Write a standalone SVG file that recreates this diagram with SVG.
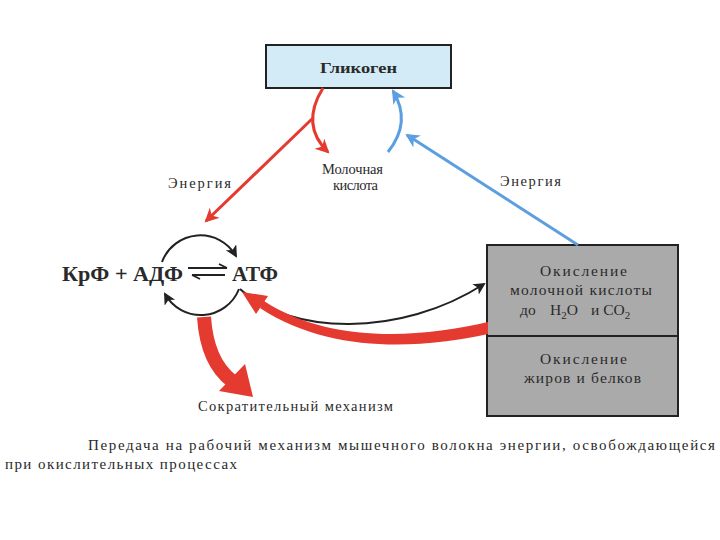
<svg xmlns="http://www.w3.org/2000/svg" width="720" height="540" viewBox="0 0 720 540">
<style>
text{font-family:"Liberation Serif","DejaVu Serif",serif;fill:#2a2a2a}
.lbl{font-size:14.5px}
.box{font-size:15.5px}
.red{stroke:#e53a30;fill:none}
.blue{stroke:#5b9fe0;fill:none}
.blk{stroke:#222;fill:none}
</style>
<defs>
<marker id="mr" markerUnits="userSpaceOnUse" markerWidth="16" markerHeight="16" refX="12" refY="7" orient="auto"><path d="M0,0 L14,7 L0,14 L4,7 Z" fill="#e53a30"/></marker>
<marker id="mb" markerUnits="userSpaceOnUse" markerWidth="16" markerHeight="16" refX="12" refY="7" orient="auto"><path d="M0,0 L14,7 L0,14 L4,7 Z" fill="#5b9fe0"/></marker>
<marker id="mk" markerUnits="userSpaceOnUse" markerWidth="14" markerHeight="14" refX="10" refY="6" orient="auto"><path d="M0,0 L12,6 L0,12 L3,6 Z" fill="#222"/></marker>
</defs>
<rect width="720" height="540" fill="#fff"/>

<g id="glycogen">
<rect x="266" y="45" width="185" height="43" fill="#d3ebf7" stroke="#222" stroke-width="2"/>
<text x="320" y="73" textLength="77" lengthAdjust="spacingAndGlyphs" style="font-size:15.5px;font-weight:bold">Гликоген</text>
</g>

<g id="oxidation">
<rect x="487" y="245" width="191" height="171" fill="#aaaaaa" stroke="#222" stroke-width="2"/>
<line x1="487" y1="336" x2="678" y2="336" stroke="#222" stroke-width="2"/>
<text class="box" x="540" y="276" textLength="87" lengthAdjust="spacing">Окисление</text>
<text class="box" x="510" y="295" textLength="142" lengthAdjust="spacing">молочной кислоты</text>
<text class="box" x="520" y="315"><tspan>до</tspan><tspan x="550">H</tspan><tspan font-size="11" dy="4">2</tspan><tspan dy="-4">O</tspan><tspan x="591">и CO</tspan><tspan font-size="11" dy="4">2</tspan></text>
<text class="box" x="540" y="364" textLength="87" lengthAdjust="spacing">Окисление</text>
<text class="box" x="524" y="383" textLength="117" lengthAdjust="spacing">жиров и белков</text>
</g>

<g id="equation">
<text x="62" y="281" textLength="121" lengthAdjust="spacingAndGlyphs" style="font-size:21px;font-weight:bold">КрФ + АДФ</text>
<text x="232" y="281" textLength="46" lengthAdjust="spacingAndGlyphs" style="font-size:21px;font-weight:bold">АТФ</text>
<path d="M188,268 L227,268 M227,268 L219,264" stroke="#222" stroke-width="1.8" fill="none"/>
<path d="M192,275 L225,275 M192,275 L200,279" stroke="#222" stroke-width="1.8" fill="none"/>
</g>

<g id="labels">
<text class="lbl" x="168" y="188" textLength="63" lengthAdjust="spacing">Энергия</text>
<text class="lbl" x="322" y="174" textLength="61" lengthAdjust="spacing">Молочная</text>
<text class="lbl" x="333" y="190" textLength="45" lengthAdjust="spacing">кислота</text>
<text class="lbl" x="500" y="186" textLength="61" lengthAdjust="spacing">Энергия</text>
<text class="lbl" x="198" y="411" textLength="195" lengthAdjust="spacing">Сократительный механизм</text>
<text class="lbl" x="88" y="450" textLength="627" lengthAdjust="spacing" style="font-size:15px">Передача на рабочий механизм мышечного волокна энергии, освобождающейся</text>
<text class="lbl" x="5" y="469" textLength="232" lengthAdjust="spacing" style="font-size:15px">при окислительных процессах</text>
</g>

<g id="connectors">
<path class="blk" stroke-width="2" d="M162,262 A41,41 0 0 1 236,256" marker-end="url(#mk)"/>
<path class="blk" stroke-width="2" d="M239,289 A41,41 0 0 1 165,294" marker-end="url(#mk)"/>
<path class="blk" stroke-width="2" d="M240,289 C290,335 400,338 484,284" marker-end="url(#mk)"/>
<path class="red" stroke-width="3" d="M323,88 Q300,125 328,152" marker-end="url(#mr)"/>
<path class="red" stroke-width="3" d="M313,118 L206,221" marker-end="url(#mr)"/>
<path class="blue" stroke-width="3" d="M388,152 Q412,122 393,91" marker-end="url(#mb)"/>
<path class="blue" stroke-width="3" d="M578,245 L407,135" marker-end="url(#mb)"/>
<path d="M488,322 C420,338 330,344 264,301 L260,308 C330,354 420,349 488,334 Z" fill="#e53a30"/>
<polygon points="242,292 268,296 256,314" fill="#e53a30"/>
<path d="M204,317 Q207,362 232,381" stroke="#e53a30" stroke-width="14" fill="none"/>
<polygon points="253,397 219,391 245,364" fill="#e53a30"/>
</g>
</svg>
